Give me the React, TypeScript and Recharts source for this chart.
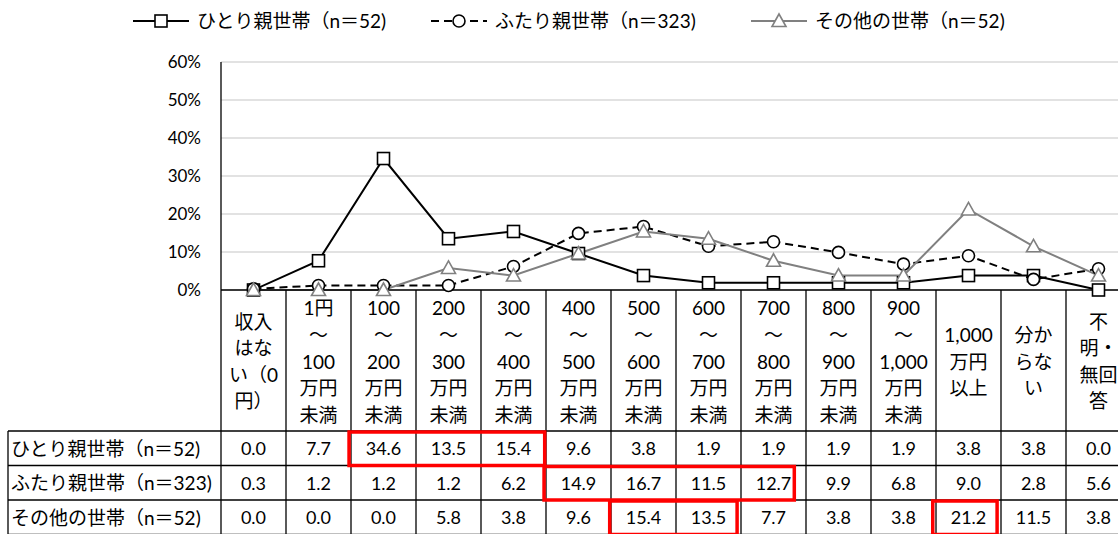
import { LineChart, Line, XAxis, YAxis, CartesianGrid } from 'recharts'

const FONT = "Lato, 'Noto Sans CJK JP', sans-serif"

// income brackets (header lines split by \n)
const categories = [
  '収入\nはな\nい（0\n円）',
  '1円\n～\n100\n万円\n未満',
  '100\n～\n200\n万円\n未満',
  '200\n～\n300\n万円\n未満',
  '300\n～\n400\n万円\n未満',
  '400\n～\n500\n万円\n未満',
  '500\n～\n600\n万円\n未満',
  '600\n～\n700\n万円\n未満',
  '700\n～\n800\n万円\n未満',
  '800\n～\n900\n万円\n未満',
  '900\n～\n1,000\n万円\n未満',
  '1,000\n万円\n以上',
  '分か\nらな\nい',
  '不\n明・\n無回\n答',
]

const seriesNames = ['ひとり親世帯（n＝52)', 'ふたり親世帯（n＝323)', 'その他の世帯（n＝52)']

const single = [0.0, 7.7, 34.6, 13.5, 15.4, 9.6, 3.8, 1.9, 1.9, 1.9, 1.9, 3.8, 3.8, 0.0]
const two = [0.3, 1.2, 1.2, 1.2, 6.2, 14.9, 16.7, 11.5, 12.7, 9.9, 6.8, 9.0, 2.8, 5.6]
const other = [0.0, 0.0, 0.0, 5.8, 3.8, 9.6, 15.4, 13.5, 7.7, 3.8, 3.8, 21.2, 11.5, 3.8]

const yTicks = [0, 10, 20, 30, 40, 50, 60]

const data = categories.map((c, i) => ({ cat: c, single: single[i], two: two[i], other: other[i] }))
const rows = [single, two, other]

// layout
const W = 1140
const H = 534
const LEFT = 221
const COL = 65
const TOP = 62
const AXIS_Y = 290
const HEAD_BOTTOM = 431
const ROW_H = 34.5
const GRAY = '#808080'

// red boxes drawn on the table: row index, column span (fractional)
const boxes = [
  { row: 0, from: 1.97, to: 4.98 },
  { row: 1, from: 4.97, to: 8.82 },
  { row: 2, from: 5.98, to: 7.94 },
  { row: 2, from: 10.95, to: 11.94 },
]

function CatTick(props: any) {
  const { x, y, payload } = props
  const lines = String(payload.value).split('\n')
  const n = lines.length
  return (
    <text x={x} textAnchor="middle" fontSize={19} fill="#000" fontFamily={FONT} dominantBaseline="central">
      {lines.map((l, i) => (
        <tspan key={i} x={x} y={y + 70.5 + (i - (n - 1) / 2) * 26.6}>
          {l}
        </tspan>
      ))}
    </text>
  )
}

const SquareDot = (p: any) => {
  if (p.cx == null || p.cy == null) return <g key={p.index} />
  return <rect key={p.index} x={p.cx - 6} y={p.cy - 6} width={12} height={12} fill="#fff" stroke="#000" strokeWidth={1.6} />
}

const TriangleDot = (p: any) => {
  if (p.cx == null || p.cy == null) return <g key={p.index} />
  const { cx, cy } = p
  return (
    <polygon
      key={p.index}
      points={`${cx},${cy - 7} ${cx - 7},${cy + 5.5} ${cx + 7},${cy + 5.5}`}
      fill="#fff"
      stroke={GRAY}
      strokeWidth={1.6}
    />
  )
}

function LegendIcon({ kind }: { kind: number }) {
  const w = 56
  return (
    <svg width={w} height={20} style={{ display: 'block' }}>
      {kind === 0 && (
        <>
          <line x1={0} y1={10} x2={w} y2={10} stroke="#000" strokeWidth={2} />
          <rect x={w / 2 - 6} y={4} width={12} height={12} fill="#fff" stroke="#000" strokeWidth={1.6} />
        </>
      )}
      {kind === 1 && (
        <>
          <line x1={0} y1={10} x2={w} y2={10} stroke="#000" strokeWidth={2} strokeDasharray="8 5" />
          <circle cx={w / 2} cy={10} r={6} fill="#fff" stroke="#000" strokeWidth={1.6} />
        </>
      )}
      {kind === 2 && (
        <>
          <line x1={0} y1={10} x2={w} y2={10} stroke={GRAY} strokeWidth={2} />
          <polygon
            points={`${w / 2},${3} ${w / 2 - 7},${15.5} ${w / 2 + 7},${15.5}`}
            fill="#fff"
            stroke={GRAY}
            strokeWidth={1.6}
          />
        </>
      )}
    </svg>
  )
}

const legendPos = [133, 431, 751]

export default function App() {
  const rowTop = (r: number) => HEAD_BOTTOM + r * ROW_H
  const colX = (c: number) => LEFT + c * COL

  return (
    <div
      style={{
        position: 'absolute',
        left: 0,
        top: 0,
        width: 1118,
        height: H,
        overflow: 'hidden',
        background: '#fff',
        fontFamily: FONT,
      }}
    >
      <div style={{ position: 'absolute', left: 0, top: 0 }}>
        <LineChart width={W} height={H} data={data} margin={{ top: TOP, right: W - LEFT - 14 * COL, left: 0, bottom: 0 }}>
          <CartesianGrid vertical={false} stroke="#d9d9d9" strokeWidth={1.5} />
          <XAxis
            dataKey="cat"
            interval={0}
            height={H - AXIS_Y}
            padding={{ left: COL / 2, right: COL / 2 }}
            tickLine={false}
            tickSize={0}
            tickMargin={0}
            axisLine={{ stroke: '#000', strokeWidth: 1.3 }}
            tick={<CatTick />}
          />
          <YAxis
            width={LEFT}
            domain={[0, 60]}
            ticks={yTicks}
            tickFormatter={(v) => `${v}%`}
            tickLine={false}
            tickSize={0}
            tickMargin={20}
            axisLine={{ stroke: '#000', strokeWidth: 1.3 }}
            tick={{ fill: '#000', fontSize: 17, fontFamily: FONT }}
          />
          <Line
            dataKey="single"
            name={seriesNames[0]}
            stroke="#000"
            strokeWidth={2}
            dot={SquareDot}
            isAnimationActive={false}
          />
          <Line
            dataKey="two"
            name={seriesNames[1]}
            stroke="#000"
            strokeWidth={2}
            strokeDasharray="8 5"
            dot={{ r: 6, fill: '#fff', stroke: '#000', strokeWidth: 1.6, strokeDasharray: '' }}
            isAnimationActive={false}
          />
          <Line
            dataKey="other"
            name={seriesNames[2]}
            stroke={GRAY}
            strokeWidth={2}
            dot={TriangleDot}
            isAnimationActive={false}
          />
        </LineChart>
      </div>

      {/* data table under the chart */}
      <svg width={W} height={H} style={{ position: 'absolute', left: 0, top: 0, pointerEvents: 'none' }}>
        {categories.map((_, k) => (
          <line key={'v' + k} x1={colX(k + 1)} y1={AXIS_Y} x2={colX(k + 1)} y2={H} stroke="#000" strokeWidth={1.3} />
        ))}
        <line x1={LEFT} y1={AXIS_Y} x2={LEFT} y2={H} stroke="#000" strokeWidth={1.3} />
        <line x1={8} y1={HEAD_BOTTOM} x2={8} y2={H} stroke="#000" strokeWidth={1.3} />
        {[0, 1, 2, 3].map((r) => (
          <line key={'h' + r} x1={8} y1={rowTop(r)} x2={colX(14)} y2={rowTop(r)} stroke="#000" strokeWidth={1.3} />
        ))}
        {rows.map((vals, r) => (
          <g key={'r' + r}>
            <text x={11} y={rowTop(r) + ROW_H / 2} fontSize={19} fontFamily={FONT} dominantBaseline="central" fill="#000">
              {seriesNames[r]}
            </text>
            {vals.map((v, i) => (
              <text
                key={i}
                x={colX(i) + COL / 2}
                y={rowTop(r) + ROW_H / 2}
                fontSize={18}
                fontFamily={FONT}
                textAnchor="middle"
                dominantBaseline="central"
                fill="#000"
              >
                {v.toFixed(1)}
              </text>
            ))}
          </g>
        ))}
        {boxes.map((b, i) => (
          <rect
            key={'b' + i}
            x={colX(b.from)}
            y={rowTop(b.row) + 1}
            width={(b.to - b.from) * COL}
            height={ROW_H - 1}
            fill="none"
            stroke="#ff0000"
            strokeWidth={3.5}
          />
        ))}
      </svg>

      {/* legend */}
      {seriesNames.map((n, i) => (
        <div
          key={n}
          style={{
            position: 'absolute',
            left: legendPos[i],
            top: 11,
            display: 'flex',
            alignItems: 'center',
            gap: 8,
            fontSize: 19,
            whiteSpace: 'nowrap',
            lineHeight: '20px',
          }}
        >
          <LegendIcon kind={i} />
          <span>{n}</span>
        </div>
      ))}
    </div>
  )
}
